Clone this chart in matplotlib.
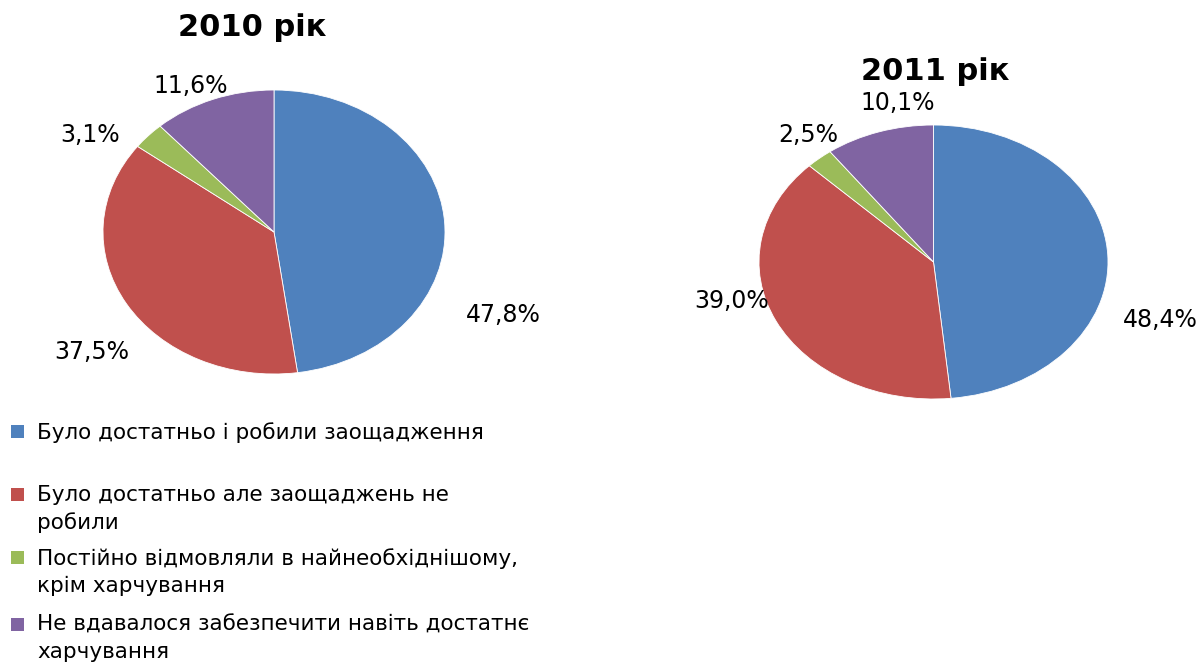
import matplotlib
matplotlib.use("Agg")
import matplotlib.pyplot as plt
from matplotlib.patches import Rectangle

categories = [
    "Було достатньо і робили заощадження",
    "Було достатньо але заощаджень не\nробили",
    "Постійно відмовляли в найнеобхіднішому,\nкрім харчування",
    "Не вдавалося забезпечити навіть достатнє\nхарчування",
]
values_2010 = [47.8, 37.5, 3.1, 11.6]
values_2011 = [48.4, 39.0, 2.5, 10.1]
labels_2010 = ["47,8%", "37,5%", "3,1%", "11,6%"]
labels_2011 = ["48,4%", "39,0%", "2,5%", "10,1%"]
titles = ["2010 рік", "2011 рік"]
colors = ["#4F81BD", "#C0504D", "#9BBB59", "#8064A2"]

W, H = 1199, 664
fig = plt.figure(figsize=(W / 100, H / 100), dpi=100)
plt.rcParams['font.family'] = ['DejaVu Sans']

def px_axes(x0, y0, x1, y1):
    return fig.add_axes([x0 / W, 1 - y1 / H, (x1 - x0) / W, (y1 - y0) / H])

def draw_pie(box, vals, labs, label_pos, title, title_pos):
    ax = px_axes(*box)
    ax.pie(vals, colors=colors, startangle=90, counterclock=False,
           wedgeprops=dict(edgecolor="white", linewidth=0.6), radius=1.0)
    ax.set_aspect('auto')
    ax.set_xlim(-1.0, 1.0)
    ax.set_ylim(-1.0, 1.0)
    ax.axis('off')
    for lab, (x, y) in zip(labs, label_pos):
        fig.text(x / W, 1 - y / H, lab, ha='center', va='center', fontsize=17, color='black')
    fig.text(title_pos[0] / W, 1 - title_pos[1] / H, title, ha='center', va='center',
             fontsize=22, fontweight='bold')

draw_pie((103, 90, 445, 374), values_2010, labels_2010,
         [(503, 315), (92, 352), (90, 135), (191, 86)], titles[0], (252, 28))
draw_pie((759, 125, 1108, 399), values_2011, labels_2011,
         [(1160, 320), (732, 301), (808, 135), (898, 103)], titles[1], (935, 72))

# legend
leg_y = [432, 495, 558, 625]
for cat, col, y in zip(categories, colors, leg_y):
    fig.patches.append(Rectangle(((11) / W, 1 - (y + 6) / H), 13 / W, 13 / H,
                                 transform=fig.transFigure, facecolor=col, edgecolor='none'))
    fig.text(37 / W, 1 - (y - 10) / H, cat, ha='left', va='top', fontsize=15.5,
             linespacing=1.42, color='black')

fig.savefig("out.png", dpi=100)
